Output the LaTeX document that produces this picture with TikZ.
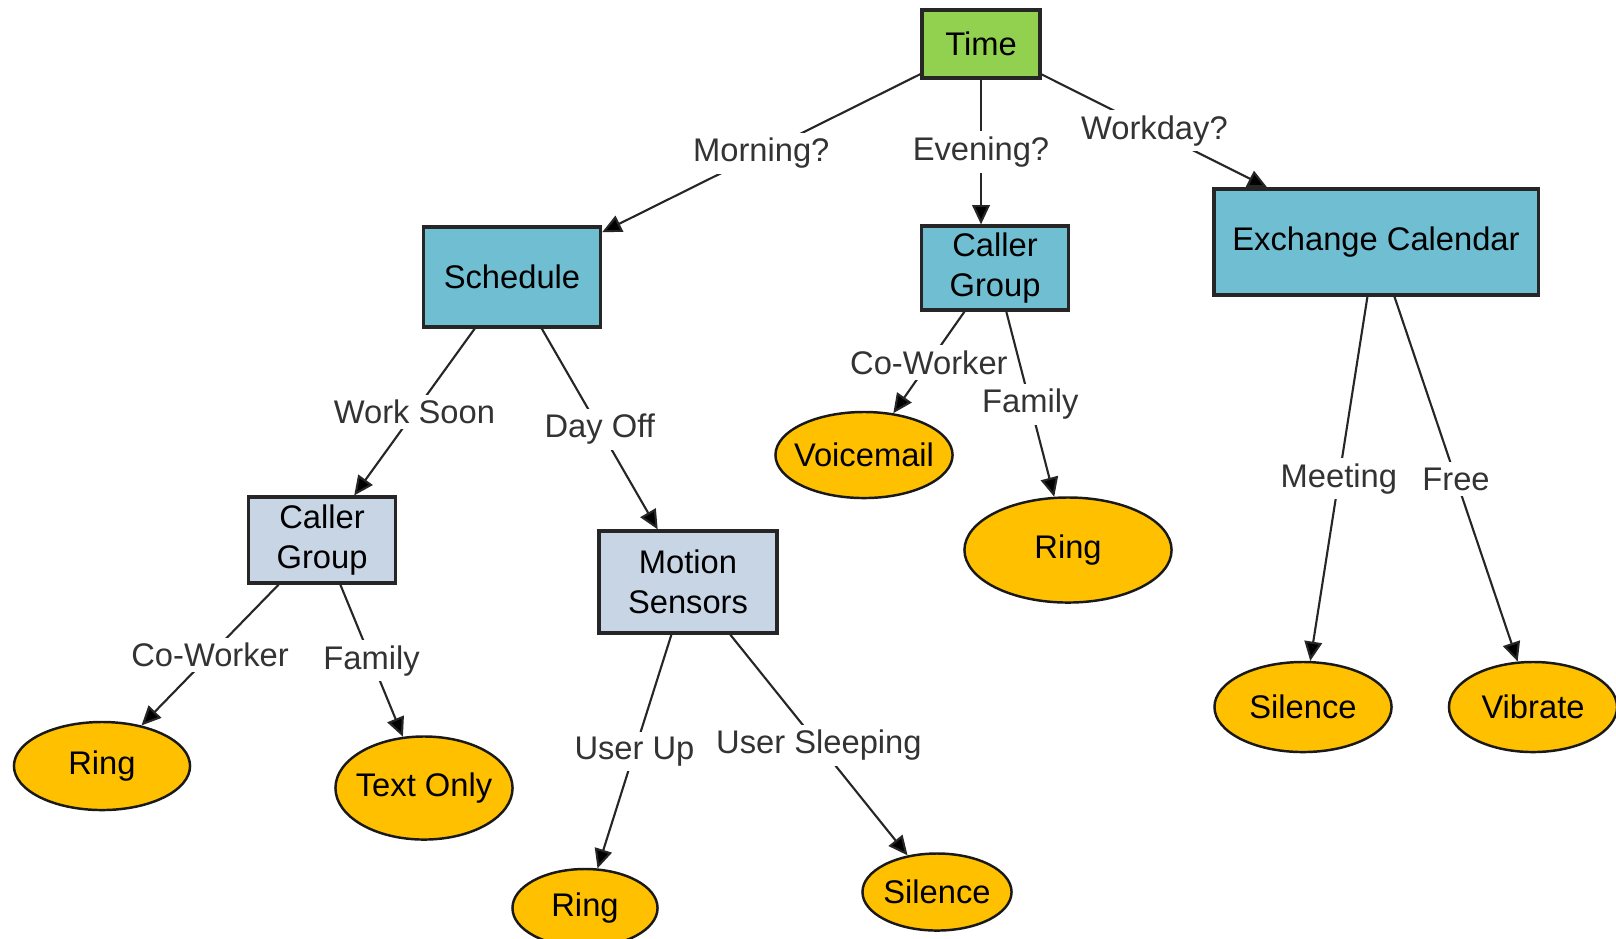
\documentclass[tikz,border=0pt]{standalone}
\usepackage{fontspec}
\setmainfont{Liberation Sans}
\usetikzlibrary{shapes.geometric, arrows.meta}

\definecolor{verde}{HTML}{92D050}
\definecolor{azul}{HTML}{70BED2}
\definecolor{azulclaro}{HTML}{C7D5E4}
\definecolor{laranja}{HTML}{FFC000}

\begin{document}
\begin{tikzpicture}[x=0.01cm, y=-0.01cm,
  font=\fontsize{9.3}{11.3}\selectfont,
  caixa/.style={draw=black!85, line width=0.9pt, align=center, inner sep=0pt},
  folha/.style={ellipse, draw=black!90, line width=0.7pt, fill=laranja, inner xsep=-5pt, inner ysep=0pt},
  seta/.style={-{Triangle[length=5.5pt, width=5pt, fill=black]}, line width=0.6pt, black!85},
  rotulo/.style={fill=white, text=black!80, inner sep=1.5pt, midway}]
  \useasboundingbox (0,0) rectangle (1616,938);

  % Raiz
  \node[caixa, fill=verde, minimum width=1.18cm, minimum height=0.68cm] (time) at (981,44) {Time};

  % Primeiro nivel
  \node[caixa, fill=azul, minimum width=1.77cm, minimum height=1.00cm] (sched) at (512,277) {Schedule};
  \node[caixa, fill=azul, minimum width=1.47cm, minimum height=0.84cm] (callerR) at (995,268) {Caller\\Group};
  \node[caixa, fill=azul, minimum width=3.24cm, minimum height=1.06cm] (exch) at (1376,242) {Exchange Calendar};

  % Segundo nivel
  \node[caixa, fill=azulclaro, minimum width=1.47cm, minimum height=0.86cm] (callerL) at (322,540) {Caller\\Group};
  \node[caixa, fill=azulclaro, minimum width=1.78cm, minimum height=1.02cm] (motion) at (688,582) {Motion\\Sensors};

  % Folhas
  \node[folha, minimum width=1.77cm, minimum height=0.86cm] (voice) at (864,455) {Voicemail};
  \node[folha, minimum width=2.07cm, minimum height=1.05cm] (ringR) at (1068,550) {Ring};
  \node[folha, minimum width=1.77cm, minimum height=0.90cm] (silR) at (1303,707) {Silence};
  \node[folha, minimum width=1.68cm, minimum height=0.90cm] (vib) at (1533,707) {Vibrate};
  \node[folha, minimum width=1.76cm, minimum height=0.88cm] (ringL) at (102,766) {Ring};
  \node[folha, minimum width=1.77cm, minimum height=1.03cm] (text) at (424,788) {Text Only};
  \node[folha, minimum width=1.45cm, minimum height=0.78cm] (ringB) at (585,908) {Ring};
  \node[folha, minimum width=1.49cm, minimum height=0.77cm] (silB) at (937,892) {Silence};

  % Ligacoes
  \draw[seta] (time) -- (sched) node[rotulo] {Morning?};
  \draw[seta] (time) -- (time |- callerR.north) node[rotulo] {Evening?};
  \draw[seta] (time) -- (exch) node[rotulo] {Workday?};

  \draw[seta] (sched) -- (callerL) node[rotulo] {Work Soon};
  \draw[seta] (sched) -- (motion) node[rotulo] {Day Off};

  \draw[seta] (callerR) -- (voice) node[rotulo] {Co-Worker};
  \draw[seta] (callerR) -- (ringR) node[rotulo] {Family};

  \draw[seta] (exch) -- (silR) node[rotulo] {Meeting};
  \draw[seta] (exch) -- (vib) node[rotulo] {Free};

  \draw[seta] (callerL) -- (ringL) node[rotulo] {Co-Worker};
  \draw[seta] (callerL) -- (text) node[rotulo] {Family};

  \draw[seta] (motion) -- (ringB) node[rotulo] {User Up};
  \draw[seta] (motion) -- (silB) node[rotulo] {User Sleeping};
\end{tikzpicture}
\end{document}
